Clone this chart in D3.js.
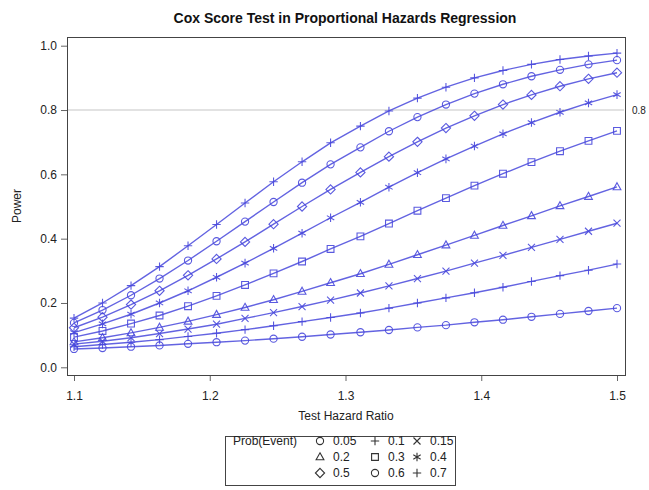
<!DOCTYPE html>
<html>
<head>
<meta charset="utf-8">
<title>Cox Score Test in Proportional Hazards Regression</title>
<script src="https://d3js.org/d3.v7.min.js"></script>
<style>
    body { margin: 0; background: #fff; }
    text { font-family: Arial, "Liberation Sans", sans-serif; }
</style>
</head>
<body>
<div id="output"></div>

<script type="text/javascript">

    // test hazard ratios (20 points from 1.1 to 1.5)
    var hazardRatio = [1.1, 1.121, 1.142, 1.163, 1.184, 1.205, 1.226, 1.247, 1.268, 1.289,
                       1.311, 1.332, 1.353, 1.374, 1.395, 1.416, 1.437, 1.458, 1.479, 1.5];

    var probEvent = ["0.05", "0.1", "0.15", "0.2", "0.3", "0.4", "0.5", "0.6", "0.7"];
    var markerTypes = ["circle", "plus", "times", "triangle", "square", "star", "diamond", "circle", "plus"];

    // power, one array per Prob(Event)
    var power005 = [0.057,0.060,0.064,0.068,0.073,0.078,0.083,0.089,0.095,0.102,0.109,0.116,0.124,0.131,0.140,0.148,0.157,0.166,0.175,0.184];
    var power010 = [0.064,0.071,0.078,0.086,0.096,0.106,0.117,0.129,0.142,0.155,0.169,0.184,0.200,0.216,0.232,0.249,0.267,0.285,0.302,0.321];
    var power015 = [0.072,0.081,0.092,0.105,0.119,0.134,0.152,0.170,0.189,0.209,0.231,0.253,0.276,0.299,0.324,0.348,0.373,0.398,0.423,0.448];
    var power020 = [0.079,0.092,0.107,0.124,0.143,0.164,0.186,0.210,0.236,0.263,0.291,0.320,0.350,0.380,0.410,0.441,0.471,0.502,0.531,0.561];
    var power030 = [0.094,0.113,0.136,0.161,0.190,0.222,0.256,0.292,0.329,0.368,0.407,0.447,0.487,0.526,0.565,0.602,0.638,0.672,0.704,0.735];
    var power040 = [0.108,0.135,0.165,0.200,0.238,0.280,0.324,0.370,0.417,0.465,0.513,0.560,0.605,0.648,0.688,0.726,0.761,0.793,0.822,0.848];
    var power050 = [0.123,0.156,0.195,0.238,0.286,0.337,0.390,0.445,0.500,0.553,0.606,0.655,0.701,0.744,0.782,0.817,0.847,0.874,0.897,0.916];
    var power060 = [0.138,0.178,0.224,0.276,0.332,0.392,0.453,0.514,0.574,0.631,0.684,0.734,0.778,0.817,0.851,0.880,0.905,0.925,0.942,0.955];
    var power070 = [0.153,0.200,0.254,0.313,0.378,0.444,0.511,0.577,0.639,0.698,0.750,0.797,0.837,0.871,0.900,0.923,0.942,0.957,0.968,0.977];

    var powerSeries = [power005, power010, power015, power020, power030, power040, power050, power060, power070];

    var xTicks = [1.1, 1.2, 1.3, 1.4, 1.5];
    var yTicks = [0.0, 0.2, 0.4, 0.6, 0.8, 1.0];
    var refPower = 0.8;

    var w = 649, h = 490;
    var frame = {left: 67, right: 625, top: 37, bottom: 375};   // plot box

    var lineColor = "#4848dc";
    var axisColor = "#444";

    var x = d3.scaleLinear()
        .domain([1.1, 1.5])
        .range([74, 617]);

    var y = d3.scaleLinear()
        .domain([0, 1])
        .range([367.3, 45.7]);

    var svg = d3.select("#output").append("svg")
        .attr("width", w)
        .attr("height", h);

    // marker shapes drawn as open strokes
    function markerPath(type) {
        switch (type) {
            case "circle":
                return "M3.6,0A3.6,3.6 0 1,1 -3.6,0A3.6,3.6 0 1,1 3.6,0Z";
            case "plus":
                return "M-4.2,0H4.2M0,-4.2V4.2";
            case "times":
                return "M-3.5,-3.5L3.5,3.5M-3.5,3.5L3.5,-3.5";
            case "triangle":
                return "M0,-4.2L3.9,2.8L-3.9,2.8Z";
            case "square":
                return "M-3.4,-3.4H3.4V3.4H-3.4Z";
            case "star":
                return "M0,-4.3V4.3M-3.7,-2.15L3.7,2.15M-3.7,2.15L3.7,-2.15";
            case "diamond":
                return "M0,-4.6L4.6,0L0,4.6L-4.6,0Z";
        }
    }

    // title
    svg.append("text")
        .attr("x", 345)
        .attr("y", 23)
        .attr("text-anchor", "middle")
        .attr("font-size", "14px")
        .attr("font-weight", "bold")
        .attr("fill", "#111")
        .text("Cox Score Test in Proportional Hazards Regression");

    // reference line at 0.8
    svg.append("line")
        .attr("x1", frame.left + 1).attr("x2", frame.right - 1)
        .attr("y1", y(refPower)).attr("y2", y(refPower))
        .attr("stroke", "#e2e2e2")
        .attr("stroke-width", 2);

    svg.append("text")
        .attr("x", 632)
        .attr("y", y(refPower) + 3.5)
        .attr("font-size", "10px")
        .attr("fill", "#222")
        .text(d3.format(".1f")(refPower));

    // axes
    var yAxis = d3.axisLeft(y)
        .tickValues(yTicks)
        .tickFormat(d3.format(".1f"))
        .tickSize(6)
        .tickPadding(4);

    var xAxis = d3.axisBottom(x)
        .tickValues(xTicks)
        .tickFormat(d3.format(".1f"))
        .tickSize(6)
        .tickPadding(10);

    var gy = svg.append("g")
        .attr("transform", "translate(" + frame.left + ",0)")
        .call(yAxis);

    var gx = svg.append("g")
        .attr("transform", "translate(0," + frame.bottom + ")")
        .call(xAxis);

    [gx, gy].forEach(function(g) {
        g.select(".domain").remove();
        g.selectAll(".tick line").attr("stroke", "#666");
        g.selectAll(".tick text")
            .attr("font-family", "Arial, 'Liberation Sans', sans-serif")
            .attr("font-size", "12px")
            .attr("fill", "#222");
    });

    // plot frame
    svg.append("rect")
        .attr("x", frame.left + 0.5)
        .attr("y", frame.top + 0.5)
        .attr("width", frame.right - frame.left)
        .attr("height", frame.bottom - frame.top)
        .attr("fill", "none")
        .attr("stroke", axisColor)
        .attr("stroke-width", 1);

    // axis labels
    svg.append("text")
        .attr("x", 346)
        .attr("y", 420)
        .attr("text-anchor", "middle")
        .attr("font-size", "12px")
        .attr("fill", "#222")
        .text("Test Hazard Ratio");

    svg.append("text")
        .attr("transform", "translate(21,206) rotate(-90)")
        .attr("text-anchor", "middle")
        .attr("font-size", "12px")
        .attr("fill", "#222")
        .text("Power");

    // curves
    var line = d3.line()
        .x(function(d, i) { return x(hazardRatio[i]); })
        .y(function(d) { return y(d); });

    var chart = svg.append("g");

    powerSeries.forEach(function(series, s) {
        var g = chart.append("g").attr("class", "series");

        g.append("path")
            .attr("d", line(series))
            .attr("fill", "none")
            .attr("stroke", lineColor)
            .attr("stroke-width", 1.4)
            .attr("stroke-opacity", 0.85);

        g.selectAll(".marker")
            .data(series)
            .enter()
            .append("path")
            .attr("class", "marker")
            .attr("d", markerPath(markerTypes[s]))
            .attr("transform", function(d, i) {
                return "translate(" + x(hazardRatio[i]) + "," + y(d) + ")";
            })
            .attr("fill", "none")
            .attr("stroke", lineColor)
            .attr("stroke-width", 1.1)
            .attr("stroke-opacity", 0.9);
    });

    // legend
    var legend = svg.append("g");
    legend.append("rect")
        .attr("x", 225.5).attr("y", 436.5)
        .attr("width", 230).attr("height", 49)
        .attr("fill", "#fff")
        .attr("stroke", axisColor);

    legend.append("text")
        .attr("x", 233)
        .attr("y", 445)
        .attr("font-size", "12px")
        .attr("fill", "#222")
        .text("Prob(Event)");

    var colX = [320, 375, 417];
    var rowY = [441, 457, 473];

    probEvent.forEach(function(p, i) {
        var cx = colX[i % 3], cy = rowY[Math.floor(i / 3)];
        legend.append("path")
            .attr("d", markerPath(markerTypes[i]))
            .attr("transform", "translate(" + cx + "," + cy + ")")
            .attr("fill", "none")
            .attr("stroke", "#333")
            .attr("stroke-width", 1.1);
        legend.append("text")
            .attr("x", cx + 13)
            .attr("y", cy + 4)
            .attr("font-size", "12px")
            .attr("fill", "#222")
            .text(p);
    });

</script>
</body>
</html>
